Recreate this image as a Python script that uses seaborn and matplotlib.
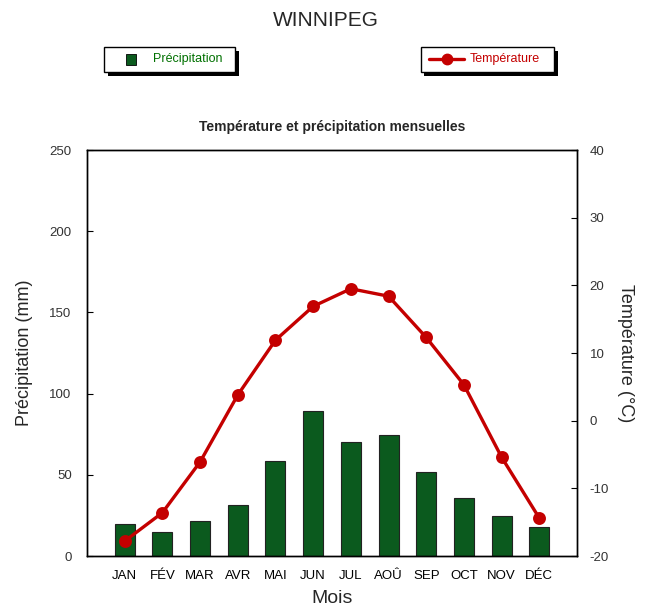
import numpy as np
import pandas as pd
import seaborn as sns
import matplotlib.pyplot as plt
from matplotlib.lines import Line2D
from matplotlib.patches import Rectangle

months = ["JAN", "FÉV", "MAR", "AVR", "MAI", "JUN", "JUL", "AOÛ", "SEP", "OCT", "NOV", "DÉC"]
precip_mm = [19.7, 14.8, 21.5, 31.4, 58.5, 89.3, 70.3, 74.5, 51.7, 35.7, 24.6, 17.9]
temp_c = [-17.8, -13.6, -6.1, 3.8, 11.9, 16.9, 19.5, 18.4, 12.3, 5.3, -5.4, -14.4]

df = pd.DataFrame({"mois": months, "precip": precip_mm, "temp": temp_c})

sns.set_theme(style="white")
plt.rcParams["font.family"] = ["Liberation Sans", "DejaVu Sans"]
plt.rcParams["axes.unicode_minus"] = False

BAR_GREEN = "#0b5a1e"
RED = "#c40000"
TICK_GREY = "#333333"

fig = plt.figure(figsize=(6.52, 6.10), dpi=100)
ax = fig.add_axes([0.1334, 0.0885, 0.7516, 0.6655])

sns.barplot(data=df, x="mois", y="precip", ax=ax, color=BAR_GREEN,
            saturation=1, width=0.53, edgecolor="#222222", linewidth=0.8)

ax2 = ax.twinx()
sns.pointplot(data=df, x="mois", y="temp", ax=ax2, color=RED,
              markers="o", markersize=7.5, linewidth=2.4)

ax.set_xlim(-1.0, 12.0)
ax.set_ylim(0, 250)
ax2.set_ylim(-20, 40)
ax.set_yticks(np.arange(0, 251, 50))
ax2.set_yticks(np.arange(-20, 41, 10))

for a in (ax, ax2):
    for s in a.spines.values():
        s.set_color("black")
        s.set_linewidth(1.0)
ax.tick_params(axis="y", direction="in", length=4, width=0.8, colors="black",
               labelcolor=TICK_GREY, labelsize=9.5, pad=11, left=True)
ax2.tick_params(axis="y", direction="in", length=4, width=0.8, colors="black",
                labelcolor=TICK_GREY, labelsize=9.5, pad=9, right=True)
ax.tick_params(axis="x", length=0, labelsize=9.5, labelcolor="black", pad=10)

ax.set_xlabel("Mois", fontsize=14, labelpad=6)
ax.set_ylabel("Précipitation (mm)", fontsize=13, labelpad=12)
ax2.set_ylabel("Température (°C)", fontsize=13, rotation=-90, labelpad=18)

ax.set_title("Température et précipitation mensuelles", fontsize=10,
             fontweight="bold", pad=14)
fig.text(0.5, 0.967, "WINNIPEG", ha="center", va="center", fontsize=15)

# legend boxes with drop shadow
def legend_box(x0, y0, w, h):
    fig.patches.append(Rectangle((x0 + 0.006, y0 - 0.007), w, h, transform=fig.transFigure,
                                 facecolor="black", edgecolor="none", zorder=1))
    fig.patches.append(Rectangle((x0, y0), w, h, transform=fig.transFigure,
                                 facecolor="white", edgecolor="black", linewidth=1, zorder=2))

legend_box(0.160, 0.882, 0.200, 0.041)
legend_box(0.645, 0.882, 0.205, 0.041)

fig.add_artist(Rectangle((0.194, 0.893), 0.014, 0.019, transform=fig.transFigure,
                         facecolor=BAR_GREEN, edgecolor="black", linewidth=0.6, zorder=3))
fig.text(0.234, 0.903, "Précipitation", color="#007000", fontsize=9, va="center", zorder=3)

fig.add_artist(Line2D([0.658, 0.712], [0.903, 0.903], transform=fig.transFigure,
                      color=RED, linewidth=2.4, marker="", zorder=3))
fig.add_artist(Line2D([0.685], [0.903], transform=fig.transFigure,
                      color=RED, marker="o", markersize=7.5, zorder=3))
fig.text(0.72, 0.903, "Température", color=RED, fontsize=9, va="center", zorder=3)

fig.savefig("out.png", dpi=100)
